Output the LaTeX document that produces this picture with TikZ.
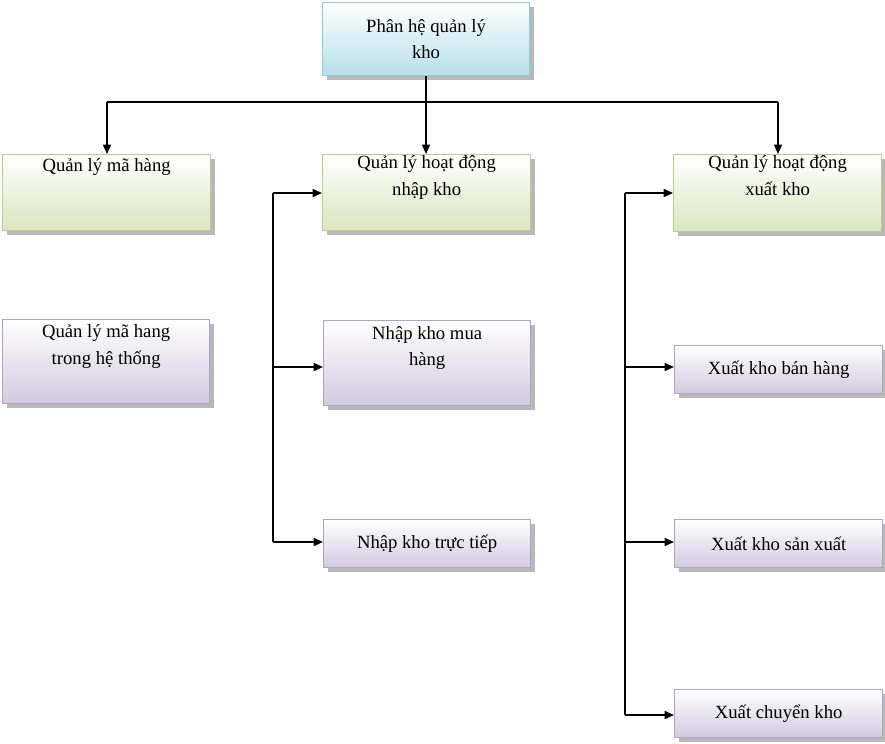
\documentclass[tikz,border=0pt]{standalone}
\usepackage{fontspec}
\setmainfont{Liberation Serif}
\usetikzlibrary{arrows.meta,shadows}
\definecolor{gB}{HTML}{B9CD8C}\definecolor{gF}{HTML}{D9E6BF}
\definecolor{pB}{HTML}{B3A2C7}\definecolor{pF}{HTML}{D3C9E0}
\definecolor{cB}{HTML}{8FCBDB}\definecolor{cF}{HTML}{B6DFEA}
\tikzset{
 boxbase/.style={draw, line width=1pt, align=center, inner sep=0pt, font=\fontsize{14}{20}\selectfont,
   drop shadow={shadow xshift=3pt,shadow yshift=-3pt,fill=gray!70,opacity=0.8}},
 gbox/.style={boxbase, draw=gB, top color=white, bottom color=gF},
 pbox/.style={boxbase, draw=pB, top color=white, bottom color=pF},
 cbox/.style={boxbase, draw=cB, top color=white, bottom color=cF},
 conn/.style={line width=1.2pt, -{Triangle[length=7pt,width=6pt]}},
 ln/.style={line width=1.2pt}
}
\newcommand{\bx}[7]{\node[#1, minimum width=#4*0.75pt-1pt, minimum height=#5*0.75pt-1pt] (#2) at (#3) {#6};}
\begin{document}
\begin{tikzpicture}[x=0.75pt,y=-0.75pt]
\useasboundingbox (0,0) rectangle (885,743);
\node[cbox, minimum width=207pt*0.75, minimum height=73pt*0.75] (top) at (426,39) {Phân hệ quản lý\\kho};
\node[gbox, minimum width=208pt*0.75, minimum height=76pt*0.75, anchor=north west] (mh) at (2,154) {\raisebox{0pt}[0pt][0pt]{\raisebox{28pt}{}}Quản lý mã hàng\\[22pt]};
\node[gbox, minimum width=208pt*0.75, minimum height=76pt*0.75, anchor=north west] (nk) at (322,154) {Quản lý  hoạt động\\nhập kho\\[6pt]};
\node[gbox, minimum width=208pt*0.75, minimum height=77pt*0.75, anchor=north west] (xk) at (673,154) {Quản lý  hoạt động\\xuất kho\\[6pt]};
\node[pbox, minimum width=207pt*0.75, minimum height=84pt*0.75, anchor=north west] (ht) at (2,319) {Quản lý mã hang\\trong hệ thống\\[6pt]};
\node[pbox, minimum width=207pt*0.75, minimum height=85pt*0.75, anchor=north west] (mua) at (323,320) {Nhập kho mua\\hàng\\[6pt]};
\node[pbox, minimum width=207pt*0.75, minimum height=48pt*0.75, anchor=north west] (tt) at (323,519) {Nhập kho trực tiếp};
\node[pbox, minimum width=208pt*0.75, minimum height=48pt*0.75, anchor=north west] (ban) at (674,345) {Xuất kho bán hàng};
\node[pbox, minimum width=208pt*0.75, minimum height=48pt*0.75, anchor=north west] (sx) at (674,519) {Xuất kho sản xuất};
\node[pbox, minimum width=208pt*0.75, minimum height=48pt*0.75, anchor=north west] (ck) at (674,689) {Xuất chuyển kho};
% top tree
\coordinate (j) at (426,102);
\draw[conn] (top.south) -- (nk.north -| top.south);
\draw[ln] (107,102) -- (778,102);
\draw[conn] (107,102) -- (107,154);
\draw[conn] (778,102) -- (778,154);
% left bracket
\draw[ln] (273,193) -- (273,542);
\draw[conn] (273,193) -- (nk.west |- 0,193);
\draw[conn] (273,367) -- (mua.west |- 0,367);
\draw[conn] (273,542) -- (tt.west |- 0,542);
% right bracket
\draw[ln] (625,193) -- (625,715);
\draw[conn] (625,193) -- (xk.west |- 0,193);
\draw[conn] (625,367) -- (ban.west |- 0,367);
\draw[conn] (625,542) -- (sx.west |- 0,542);
\draw[conn] (625,715) -- (ck.west |- 0,715);
\end{tikzpicture}
\end{document}
